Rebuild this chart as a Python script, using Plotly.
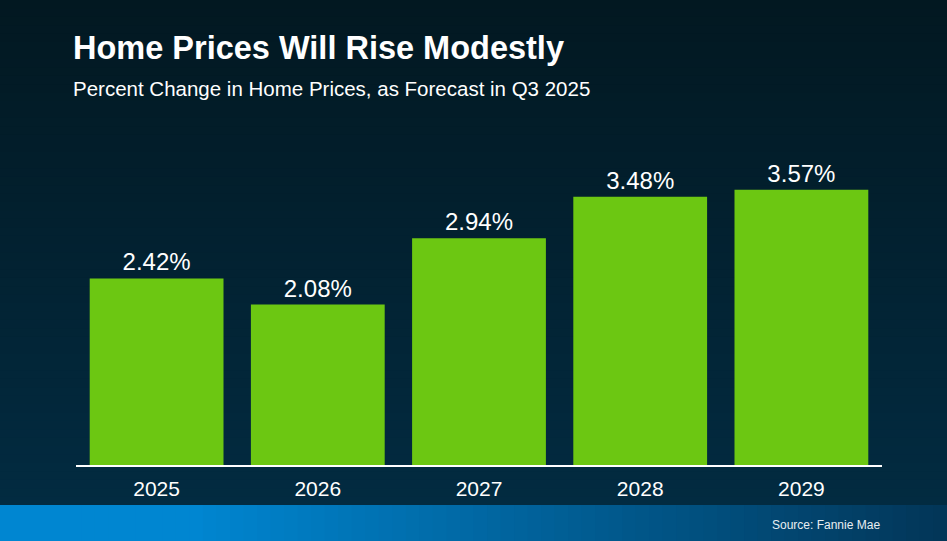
import plotly.graph_objects as go

W, H = 947, 541
L, R, T, B = 76, 65, 118, 76

years = ["2025", "2026", "2027", "2028", "2029"]
change = [2.42, 2.08, 2.94, 3.48, 3.57]
labels = ["2.42%", "2.08%", "2.94%", "3.48%", "3.57%"]

PW, PH = W - L - R, H - T - B


def px(x):
    return (x - L) / PW


def py(y):
    return (H - B - y) / PH


def mix(c1, c2, t):
    return "rgb(%d,%d,%d)" % tuple(round(a + (b - a) * t) for a, b in zip(c1, c2))


shapes = []
# vertical background gradient
n = 60
top_c, bot_c = (2, 24, 33), (2, 43, 65)
for i in range(n):
    y0 = 505 * i / n
    y1 = 505 * (i + 1) / n + 1
    shapes.append(dict(type="rect", xref="paper", yref="paper", layer="below",
                       x0=px(0), x1=px(W), y0=py(y1), y1=py(y0), line_width=0,
                       fillcolor=mix(top_c, bot_c, i / (n - 1))))
# bottom band, horizontal gradient
m = 70
left_c, right_c = (0, 134, 209), (2, 54, 88)
for i in range(m):
    x0 = W * i / m
    x1 = W * (i + 1) / m + 1
    t = min(1, max(0, (i / (m - 1) - 0.2) / 0.8))
    shapes.append(dict(type="rect", xref="paper", yref="paper", layer="below",
                       x0=px(x0), x1=px(x1), y0=py(H), y1=py(505), line_width=0,
                       fillcolor=mix(left_c, right_c, t)))

fig = go.Figure(go.Bar(
    x=years, y=change, text=labels, textposition="outside",
    textfont=dict(size=24, color="white", family="Liberation Sans, Arial"),
    marker=dict(color="#6cc712", line_width=0),
    cliponaxis=False, hoverinfo="skip",
))

fig.update_layout(
    width=W, height=H,
    margin=dict(l=L, r=R, t=T, b=B),
    paper_bgcolor="#021820", plot_bgcolor="rgba(0,0,0,0)",
    font=dict(family="Liberation Sans, Arial", color="white"),
    bargap=0.17, showlegend=False, shapes=shapes,
    annotations=[
        dict(text="<b>Home Prices Will Rise Modestly</b>", xref="paper", yref="paper",
             x=px(71), y=py(48), xanchor="left", yanchor="middle", showarrow=False,
             font=dict(size=32.5, color="white")),
        dict(text="Percent Change in Home Prices, as Forecast in Q3 2025", xref="paper",
             yref="paper", x=px(71), y=py(88), xanchor="left", yanchor="middle",
             showarrow=False, font=dict(size=20.5, color="white")),
        dict(text="Source: Fannie Mae", xref="paper", yref="paper",
             x=px(882), y=py(525), xanchor="right", yanchor="middle",
             showarrow=False, font=dict(size=12, color="#e8eef2")),
    ],
)
fig.update_xaxes(showline=True, linecolor="white", linewidth=2, ticks="",
                 tickfont=dict(size=21, color="white"), ticklabelstandoff=4,
                 showgrid=False)
fig.update_yaxes(range=[0, 4.5], visible=False, showgrid=False)

fig.write_html("out.html", config={"displayModeBar": False},
               post_script="document.body.style.margin='0';")
